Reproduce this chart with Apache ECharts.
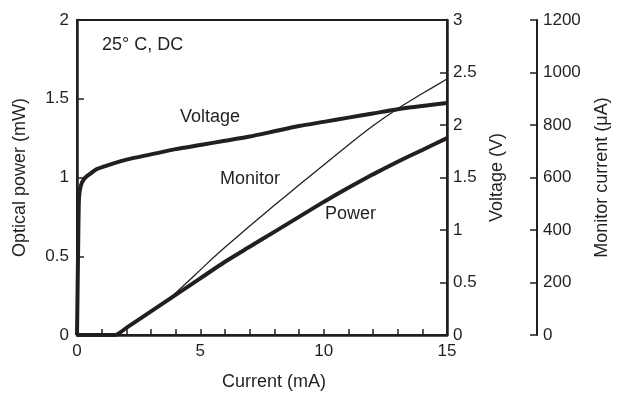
<!DOCTYPE html>
<html>
<head>
<meta charset="utf-8">
<script src="https://cdn.jsdelivr.net/npm/echarts@6/dist/echarts.min.js"></script>
<style>
  html, body { margin: 0; padding: 0; background: #fff; }
  #chart { width: 622px; height: 396px; }
</style>
</head>
<body>
<div id="chart"></div>
<script>
const voltageCurrent = [0, 0.05, 0.08, 0.15, 0.3, 0.5, 0.8, 1.3, 2, 3, 4, 5, 6, 7, 8, 9, 10, 11, 12, 13, 14, 15];
const voltageValues = [0, 0.9, 1.3, 1.42, 1.49, 1.53, 1.58, 1.62, 1.67, 1.72, 1.77, 1.81, 1.85, 1.89, 1.94, 1.99, 2.03, 2.07, 2.11, 2.15, 2.18, 2.21];

const powerCurrent = [0, 1.55, 2, 3, 4, 5, 6, 7, 8, 9, 10, 11, 12, 13, 14, 15];
const powerValues = [0, 0, 0.045, 0.15, 0.255, 0.36, 0.465, 0.56, 0.655, 0.75, 0.845, 0.935, 1.02, 1.1, 1.175, 1.25];

const monitorCurrent = [0, 1.55, 2, 3, 3.5, 4, 4.5, 5, 5.5, 6, 7, 8, 9, 10, 11, 12, 13, 14, 15];
const monitorValues = [0, 0, 27, 90, 122, 160, 204, 248, 292, 334, 415, 494, 571, 648, 724, 797, 862, 920, 975];

const annotations = [
  { text: "25\u00b0 C, DC", x: 102, y: 46 },
  { text: "Voltage", x: 180, y: 118 },
  { text: "Monitor", x: 220, y: 180 },
  { text: "Power", x: 325, y: 215 }
];

const ink = "#231f20";
const font = "'Liberation Sans', Arial, Helvetica, sans-serif";

function pairs(xs, ys) {
  return xs.map((x, i) => [x, ys[i]]);
}

function lineSeries(name, data, yAxisIndex, width) {
  return {
    name,
    type: "line",
    yAxisIndex,
    data,
    showSymbol: false,
    smooth: 0.2,
    animation: false,
    lineStyle: { color: ink, width }
  };
}

function rightAxis(min, max, interval, offset, name, nameGap) {
  return {
    type: "value",
    position: "right",
    offset,
    min,
    max,
    interval,
    name,
    nameLocation: "middle",
    nameRotate: 90,
    nameGap,
    nameTextStyle: { color: ink, fontSize: 18, fontFamily: font },
    axisLine: { show: true, lineStyle: { color: ink, width: offset ? 2 : 2.5 } },
    axisTick: { show: true, inside: true, length: 7, lineStyle: { color: ink, width: 1.5 } },
    axisLabel: { color: ink, fontSize: 17, fontFamily: font, margin: 6, formatter: (v) => String(v) },
    splitLine: { show: false }
  };
}

const chart = echarts.init(document.getElementById("chart"), null, { renderer: "canvas" });

chart.setOption({
  backgroundColor: "#fff",
  animation: false,
  grid: {
    left: 77, right: 175, top: 20, bottom: 60,
    show: true, borderColor: ink, borderWidth: 2, backgroundColor: "transparent"
  },
  xAxis: {
    type: "value",
    min: 0,
    max: 15,
    interval: 1,
    name: "Current (mA)",
    nameLocation: "middle",
    nameGap: 38,
    nameTextStyle: { color: ink, fontSize: 18, fontFamily: font, padding: [0, 0, 0, 24] },
    axisLine: { lineStyle: { color: ink, width: 2.5 } },
    axisTick: { inside: true, length: 6, lineStyle: { color: ink, width: 1.5 } },
    axisLabel: {
      color: ink, fontSize: 17, fontFamily: font, margin: 8,
      formatter: (v) => (v % 5 === 0 ? String(v) : "")
    },
    splitLine: { show: false }
  },
  yAxis: [
    {
      type: "value",
      min: 0,
      max: 2,
      interval: 0.5,
      name: "Optical power (mW)",
      nameLocation: "middle",
      nameRotate: 90,
      nameGap: 48,
      nameTextStyle: { color: ink, fontSize: 18, fontFamily: font },
      axisLine: { show: true, lineStyle: { color: ink, width: 2.5 } },
      axisTick: { show: true, inside: true, length: 7, lineStyle: { color: ink, width: 1.5 } },
      axisLabel: { color: ink, fontSize: 17, fontFamily: font, margin: 8 },
      splitLine: { show: false }
    },
    rightAxis(0, 3, 0.5, 0, "Voltage (V)", 38),
    rightAxis(0, 1200, 200, 90, "Monitor current (\u03bcA)", 56)
  ],
  series: [
    lineSeries("Voltage", pairs(voltageCurrent, voltageValues), 1, 4),
    lineSeries("Power", pairs(powerCurrent, powerValues), 0, 4),
    lineSeries("Monitor", pairs(monitorCurrent, monitorValues), 2, 1.3)
  ],
  graphic: annotations.map((a) => ({
    type: "text",
    left: a.x,
    top: a.y - 10,
    style: { text: a.text, fill: ink, fontSize: 18, fontFamily: font }
  }))
});
</script>
</body>
</html>
